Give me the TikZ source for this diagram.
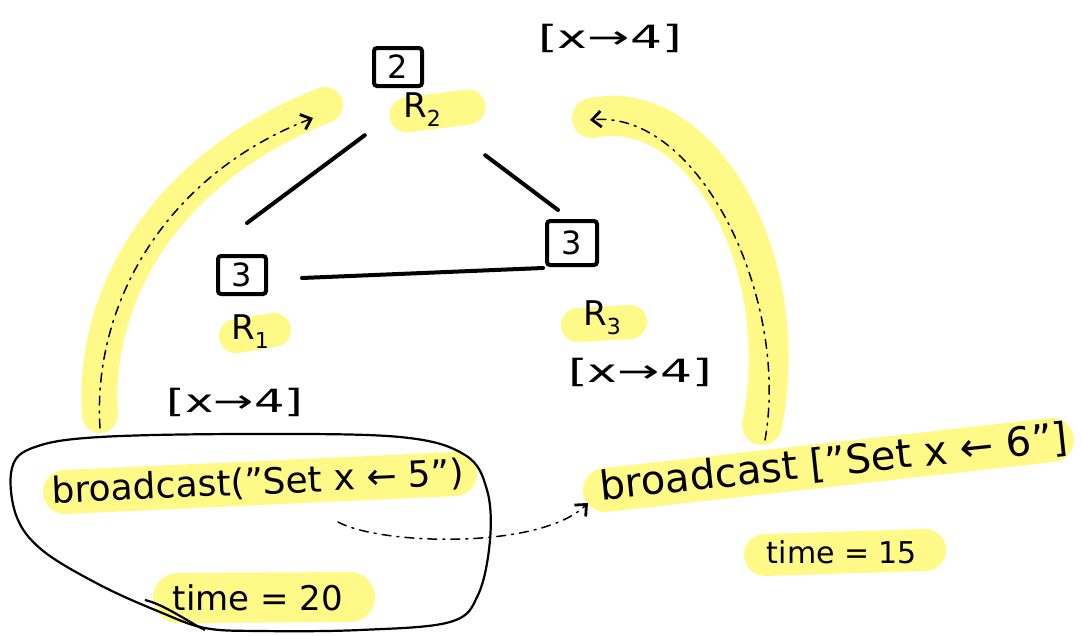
\documentclass[tikz,border=0pt]{standalone}
\usepackage{fontspec}
\setmainfont{DejaVu Sans}
\usetikzlibrary{arrows.meta,calc}
\definecolor{hl}{RGB}{255,249,135}
\newcommand\Rsub[1]{R\raisebox{-9pt}{\fontsize{22}{22}\selectfont #1}}
\begin{document}
\begin{tikzpicture}[x=1pt,y=-1pt,
  hlpen/.style={draw=hl,line width=#1,line cap=round},
  ink/.style={line width=4pt,line cap=round},
  trail/.style={line width=1.5pt,line cap=round,dash pattern=on 9pt off 6pt on 2pt off 6pt},
  tip/.style={-{Straight Barb[length=9pt,width=16pt,line width=2.8pt]}},
  box/.style={draw,line width=4pt,rounded corners=3pt,minimum width=48,minimum height=38,inner sep=0,font=\fontsize{32}{32}\selectfont},
  rlab/.style={minimum width=44,minimum height=40,inner sep=0,font=\fontsize{34}{34}\selectfont},
  valtag/.style={inner sep=0,xscale=1.5,font=\fontsize{32}{32}\selectfont},
  blob/.style={line width=2.2pt}]
\useasboundingbox (0,0) rectangle (1082,635);
% highlights
\draw[hlpen=36pt] (100,415) .. controls (92,300) and (160,170) .. (325,105);
\draw[hlpen=40pt] (592,118) .. controls (700,95) and (795,260) .. (762,425);
\draw[hlpen=35pt] (407,115) -- (468,107);
\draw[hlpen=34pt] (236,336) -- (274,330);
\draw[hlpen=34pt] (578,325) -- (630,322);
\draw[hlpen=44pt] (65,492) -- (455,474);
\draw[hlpen=44pt] (605,490) -- (1052,440);
\draw[hlpen=42pt] (765,555) -- (925,550);
\draw[hlpen=50pt] (178,598) -- (350,597);
% replicas
\node[box] (b2) at (398,67) {2};
\node[rlab] (r2) at (422,110) {\Rsub{2}};
\node[box] (b1) at (242,275) {3};
\node[rlab] (r1) at (250,332) {\Rsub{1}};
\node[box,minimum width=50,minimum height=44] (b3) at (572,243) {3};
\node[rlab] (r3) at (602,318) {\Rsub{3}};
% edges
\draw[ink] ([shift={(-35,5)}]r2.south west) -- ([shift={(-21,-31)}]b1.north east);
\draw[ink] ([shift={(41,25)}]r2.south east) -- ([shift={(13,-9)}]b3.north west);
\draw[ink] ([shift={(34,3)}]b1.east) -- ([shift={(-2,25)}]b3.west);
% values
\node[valtag,xscale=1.05] (m2) at (610,38) {[x→4]};
\node[valtag] (m1) at (235,402) {[x→4]};
\node[valtag,xscale=1.05] (m3) at (640,372) {[x→4]};
% broadcasts
\node[font=\fontsize{36}{36}\selectfont,rotate=2.5,inner sep=0] (bl) at (258,483) {broadcast("Set x ← 5")};
\node[font=\fontsize{40}{40}\selectfont,rotate=6,inner sep=0] (br) at (834,463) {broadcast ["Set x ← 6"]};
\node[font=\fontsize{30}{30}\selectfont,inner sep=0] (t15) at (842,552) {time = 15};
\node[font=\fontsize{34}{34}\selectfont,inner sep=0] (t20) at (258,598) {time = 20};
% blob
\draw[blob] plot[smooth cycle,tension=0.6] coordinates {(12,468) (35,447) (100,437) (250,434) (400,437) (465,455) (487,490) (490,540) (478,595) (450,622) (360,630) (260,631) (205,628) (160,612) (100,585) (42,550) (16,515)};
\draw[blob] (145,600) .. controls (165,605) and (185,620) .. (205,630);
% message trails
\coordinate (la0) at (100,428);
\coordinate (la1) at (313,118);
\coordinate (ra0) at (765,440);
\coordinate (ra1) at (590,120);
\coordinate (bc0) at (338,522);
\coordinate (bc1) at (588,503);
\draw[trail,tip] (la0) .. controls (92,305) and (165,175) .. (la1);
\draw[trail,tip] (ra0) .. controls (790,300) and (700,110) .. (ra1);
\draw[trail,tip] (bc0) .. controls (380,545) and (540,550) .. (bc1);
\end{tikzpicture}
\end{document}
